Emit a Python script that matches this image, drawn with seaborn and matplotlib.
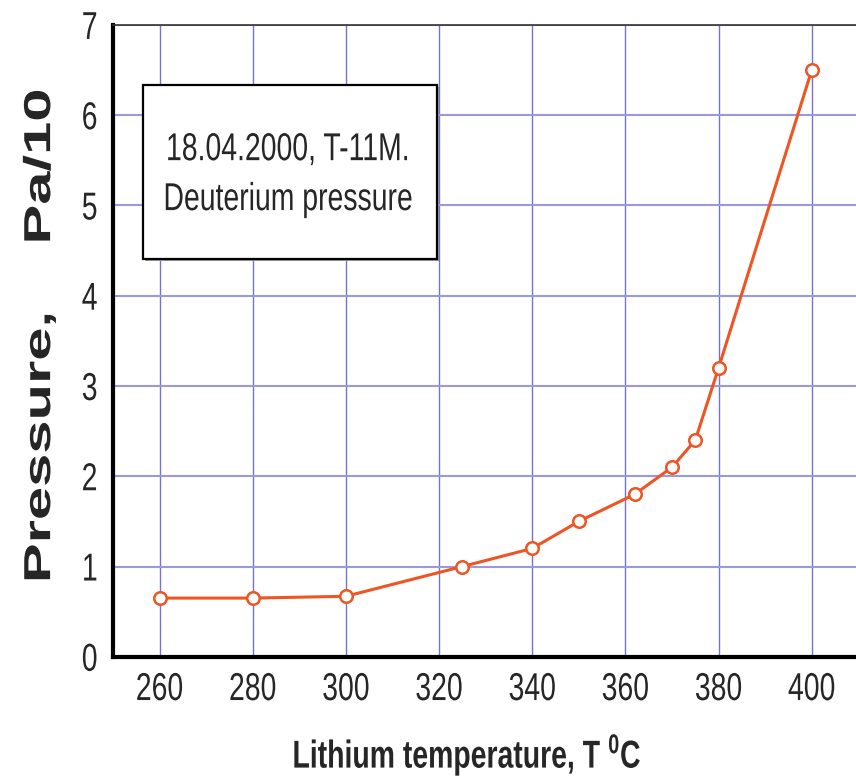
import matplotlib
matplotlib.use("Agg")
import matplotlib.pyplot as plt
import seaborn as sns
import pandas as pd
from matplotlib.patches import Rectangle
from matplotlib.patheffects import AbstractPathEffect
from matplotlib.transforms import Affine2D
from matplotlib.ticker import MultipleLocator

# lithium temperature (deg C) vs deuterium pressure
temperature = [260, 280, 300, 325, 340, 350, 362, 370, 375, 380, 400]
pressure = [0.65, 0.65, 0.67, 1.0, 1.2, 1.5, 1.8, 2.1, 2.4, 3.2, 6.5]
box_lines = ["18.04.2000, T-11M.", "Deuterium pressure"]


class Squeeze(AbstractPathEffect):
    """Squash text horizontally (on screen) around its own centre."""

    def __init__(self, sx):
        super().__init__()
        self.sx = sx

    def draw_path(self, renderer, gc, tpath, affine, rgbFace=None):
        ext = tpath.get_extents(affine)
        cx = (ext.x0 + ext.x1) / 2
        t = affine + Affine2D().translate(-cx, 0).scale(self.sx, 1).translate(cx, 0)
        renderer.draw_path(gc, tpath, t, rgbFace)


sns.set_style("white")
plt.rcParams["font.family"] = ["Liberation Sans", "DejaVu Sans"]
plt.rcParams["mathtext.default"] = "regular"
SQ = 0.73

df = pd.DataFrame({"T": temperature, "P": pressure})

fig = plt.figure(figsize=(8.56, 7.80), dpi=100)
ax = fig.add_axes([0.132, 0.158, 0.868, 0.810])

sns.lineplot(data=df, x="T", y="P", ax=ax, color="#ee5522", linewidth=2.2,
             marker="o", markersize=9, markerfacecolor="white",
             markeredgecolor="#ee5522", markeredgewidth=1.8, zorder=5)

ax.set_xlim(250, 409.5)
ax.set_ylim(0, 7)
ax.xaxis.set_major_locator(MultipleLocator(20))
ax.xaxis.set_minor_locator(MultipleLocator(10))
ax.yaxis.set_major_locator(MultipleLocator(1))
ax.yaxis.set_minor_locator(MultipleLocator(0.5))

ax.grid(axis="x", which="major", color="#7474c8", linewidth=1.0)
ax.grid(axis="y", which="major", color="#9a9ad8", linewidth=1.5)
ax.set_axisbelow(True)

for side in ["left", "bottom"]:
    ax.spines[side].set_linewidth(3)
    ax.spines[side].set_color("black")
ax.spines["top"].set_linewidth(1.2)
ax.spines["top"].set_color("#333333")
ax.spines["right"].set_visible(False)

ax.tick_params(which="major", direction="in", length=9, width=3, labelsize=28,
               color="black")
ax.tick_params(axis="x", pad=11)
ax.tick_params(axis="y", pad=9)
ax.tick_params(which="minor", direction="in", length=5, width=2.5, color="black")
ax.tick_params(axis="y", which="both", right=False)
ax.tick_params(axis="x", which="both", top=False)

ax.set_xlabel("Lithium temperature, T $^{0}$C", fontsize=28, fontweight="bold")
ax.xaxis.set_label_coords(0.476, -0.119)
ax.set_ylabel("Pressure,    Pa/10", fontsize=43, fontweight="bold")
ax.yaxis.set_label_coords(-0.060, 0.508)

# annotation box
ax.add_patch(Rectangle((0.043, 0.627), 0.396, 0.275, transform=ax.transAxes,
                       facecolor="#9a9a9a", edgecolor="none", zorder=6))
ax.add_patch(Rectangle((0.040, 0.630), 0.396, 0.275, transform=ax.transAxes,
                       facecolor="white", edgecolor="black", linewidth=1.6,
                       zorder=7))
t1 = ax.text(0.2355, 0.786, box_lines[0], transform=ax.transAxes, fontsize=28,
             ha="center", va="baseline", zorder=8)
t2 = ax.text(0.2355, 0.707, box_lines[1], transform=ax.transAxes, fontsize=28,
             ha="center", va="baseline", zorder=8)

squeezed = [t1, t2, ax.xaxis.label]
squeezed += [tk.label1 for tk in ax.xaxis.get_major_ticks()]
squeezed += [tk.label1 for tk in ax.yaxis.get_major_ticks()]
for txt in squeezed:
    txt.set_path_effects([Squeeze(SQ)])
ax.yaxis.label.set_path_effects([Squeeze(0.63)])

fig.savefig("out.png", dpi=100)
